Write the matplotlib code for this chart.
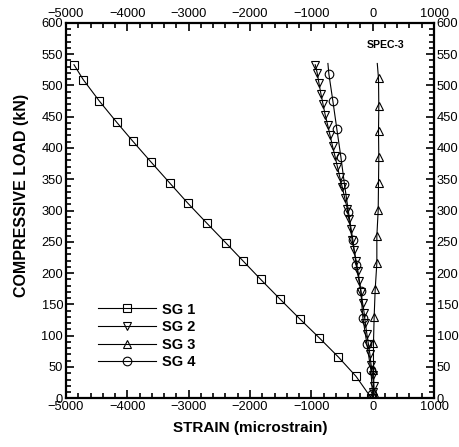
import matplotlib
matplotlib.use("Agg")
import matplotlib.pyplot as plt
from matplotlib.ticker import MultipleLocator

plt.rcParams['font.family'] = ['Liberation Sans', 'DejaVu Sans']

# SG 1 (squares)
sg1_load = [0, 35, 66, 97, 127, 159, 190, 219, 248, 280, 312, 344, 377, 411, 441, 475, 509, 533]
sg1_strain = [-20, -271, -560, -875, -1190, -1516, -1826, -2109, -2391, -2706, -3016,
              -3309, -3609, -3913, -4173, -4457, -4718, -4870]

# SG 2 (down triangles)
sg2_load = [0, 10, 20, 37, 53, 70, 87, 103, 120, 137, 153, 170, 187, 203, 220, 237, 253,
            270, 287, 303, 320, 337, 353, 370, 387, 403, 420, 437, 453, 470, 487, 503, 520, 533]
sg2_strain = [0, 10, 15, 0, -25, -45, -70, -95, -120, -140, -165, -190, -215, -240, -270,
              -305, -335, -360, -390, -415, -455, -495, -535, -575, -615, -655, -695, -735,
              -775, -810, -845, -875, -905, -937]

# SG 3 (up triangles)
sg3_load = [0, 8, 45, 88, 130, 174, 216, 259, 301, 344, 385, 427, 467, 511, 535]
sg3_strain = [0, 24, 13, 13, 24, 41, 68, 68, 90, 95, 100, 95, 100, 95, 75]

# SG 4 (circles)
sg4_load = [0, 7, 45, 87, 129, 171, 213, 253, 298, 342, 386, 430, 475, 518, 535]
sg4_strain = [0, -3, -29, -95, -160, -193, -269, -323, -395, -460, -519, -584, -649, -714, -730]

fig = plt.figure(figsize=(4.6, 4.47), dpi=100)
ax = fig.add_axes([0.1435, 0.109, 0.8, 0.840])

ms = 5.5
common = dict(color='black', lw=0.8, mfc='none', mec='black', mew=0.8, ms=ms)
ax.plot(sg1_strain, sg1_load, marker='s', label='SG 1', **common)
ax.plot(sg2_strain, sg2_load, marker='v', label='SG 2', **common)
ax.plot(sg3_strain, sg3_load, marker='^', label='SG 3', markevery=list(range(1, 14)), **common)
ax.plot(sg4_strain, sg4_load, marker='o', label='SG 4', markevery=list(range(1, 14)), ms=6.2,
        **{k: v for k, v in common.items() if k != 'ms'})

ax.set_xlim(-5000, 1000)
ax.set_ylim(0, 600)
ax.xaxis.set_major_locator(MultipleLocator(1000))
ax.xaxis.set_minor_locator(MultipleLocator(200))
ax.yaxis.set_major_locator(MultipleLocator(50))
ax.yaxis.set_minor_locator(MultipleLocator(10))
ax.tick_params(which='both', direction='in', top=True, right=True,
               labeltop=True, labelright=True, width=1.2, labelsize=9.3, pad=2)
ax.tick_params(which='major', length=6)
ax.tick_params(which='minor', length=3.5)
for s in ax.spines.values():
    s.set_linewidth(1.6)

ax.set_xlabel('STRAIN (microstrain)', fontsize=11, fontweight='bold', labelpad=6)
ax.set_ylabel('COMPRESSIVE LOAD (kN)', fontsize=11.5, fontweight='bold', labelpad=4)
ax.yaxis.set_label_coords(-0.1, 0.54)

ax.text(204, 564, 'SPEC-3', fontsize=7.6, fontweight='bold', ha='center', va='center')

leg = ax.legend(loc='upper left', bbox_to_anchor=(0.087, 0.255), frameon=False,
                prop={'weight': 'bold', 'size': 10.5}, handlelength=4.0,
                handletextpad=0.4, labelspacing=0.25, borderpad=0, borderaxespad=0)

fig.savefig('out.png', dpi=100)
